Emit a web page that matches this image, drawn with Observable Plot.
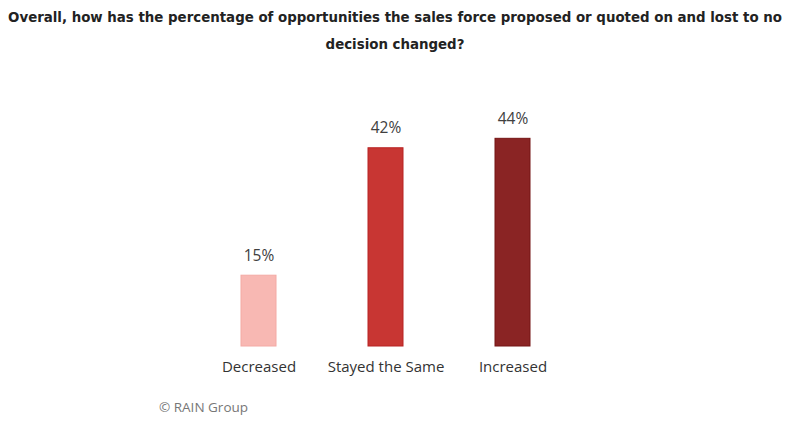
<!DOCTYPE html>
<html>
<head>
<meta charset="utf-8">
<script src="https://cdn.jsdelivr.net/npm/d3@7"></script>
<script src="https://cdn.jsdelivr.net/npm/@observablehq/plot@0.6"></script>
<style>
  html, body { margin: 0; padding: 0; background: #fff; }
  #wrap { width: 790px; height: 432px; position: relative; overflow: hidden; }
  #title { position: absolute; left: 0; top: 4px; width: 790px; text-align: center;
    font-family: "DejaVu Sans Condensed", sans-serif; font-weight: bold;
    font-size: 14.85px; line-height: 27px; color: #222; white-space: nowrap; }
  #chart { position: absolute; left: 0; top: 62px; }
  #caption { position: absolute; left: 159px; top: 398px; font-family: "Open Sans", sans-serif;
    font-size: 13.5px; color: #777; }
</style>
</head>
<body>
<div id="wrap">
  <div id="title">Overall, how has the percentage of opportunities the sales force proposed or quoted on and lost to no<br>decision changed?</div>
  <div id="chart"></div>
  <div id="caption">© RAIN Group</div>
</div>
<script>
const categories = ["Decreased", "Stayed the Same", "Increased"];
const values = [15, 42, 44];
const colors = ["#f8b8b3", "#c83633", "#8a2424"];
const strokes = ["#f4aaa4", "#b82222", "#741414"];

const data = categories.map((c, i) => ({category: c, value: values[i], fill: colors[i], stroke: strokes[i]}));

const chart = Plot.plot({
  width: 790,
  height: 330,
  marginLeft: 195,
  marginRight: 214,
  marginTop: 48,
  marginBottom: 46,
  x: {domain: categories, paddingInner: 0.724, paddingOuter: 0.362, axis: null},
  y: {domain: [0, 50], axis: null},
  style: {fontFamily: "Open Sans, sans-serif", background: "#fff"},
  marks: [
    Plot.barY(data, {x: "category", y: "value", fill: d => d.fill, stroke: d => d.stroke, strokeWidth: 1}),
    Plot.text(data, {x: "category", y: "value", text: d => d.value + "%", dy: -20, lineAnchor: "middle", fontSize: 15.5, fill: "#404040"}),
    Plot.text(data, {x: "category", y: 0, text: "category", dy: 21, lineAnchor: "middle", fontSize: 15, fill: "#333"})
  ]
});
document.getElementById("chart").appendChild(chart);
</script>
</body>
</html>
